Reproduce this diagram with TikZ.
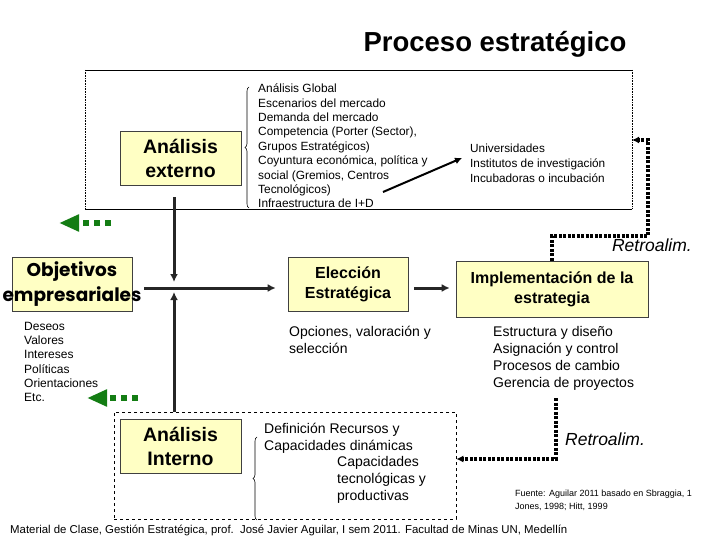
\documentclass[tikz,border=0pt]{standalone}
\usepackage{fontspec}
\setmainfont{Liberation Sans}
\newfontfamily\objfont{Poppins}
\usetikzlibrary{arrows.meta,decorations.pathreplacing,calc}
\definecolor{boxyellow}{RGB}{255,255,196}
\definecolor{arrgreen}{RGB}{20,125,20}
\tikzset{
  ybox/.style={draw=black!75, fill=boxyellow, line width=0.6pt, align=center, inner sep=0pt, font=\bfseries\fontsize{19.5}{24}\selectfont},
  thickline/.style={line width=3pt, draw=black!85},
  thickarrow/.style={thickline, -{Latex[length=8pt,width=8pt]}},
  txt/.style={inner sep=0pt, align=left, anchor=west},
  fback/.style={line width=4pt, dash pattern=on 3pt off 1.5pt, -{Latex[length=7pt,width=7pt]}},
  greenarr/.style={arrgreen, line width=6pt, dash pattern=on 6pt off 5pt, -{Triangle[length=20pt,width=16pt]}},
  bracestyle/.style={decorate, decoration={brace, amplitude=4pt}, line width=0.6pt},
}
\begin{document}
\begin{tikzpicture}[x=1pt,y=-1pt]
\useasboundingbox (0,0) rectangle (720,540);
% title
\node (title) at (495,44) {\bfseries\fontsize{27.5}{32}\selectfont Proceso estratégico};
% top box
\coordinate (tbNW) at (85,70);
\coordinate (tbNE) at (632,70);
\coordinate (tbSW) at (85,209);
\coordinate (tbSE) at (632,209);
\draw[line width=0.8pt] (tbNW) -- (tbNE);
\draw[line width=0.8pt] (tbSW) -- (tbSE);
\draw[densely dotted, line width=0.6pt] (tbNW) -- (tbSW);
\draw[densely dotted, line width=0.6pt] (tbNE) -- (tbSE);
% boxes
\node[ybox, minimum width=121pt, minimum height=54pt] (ext) at (180.5,158) {Análisis\\ externo};
\node[ybox, minimum width=120pt, minimum height=54pt] (obj) at (72,284) {};
\node[inner sep=0pt, align=center, font=\objfont\bfseries\fontsize{18.5}{25}\selectfont] (objt) at (obj.center) {Objetivos\\ empresariales};
\node[ybox, minimum width=120pt, minimum height=54pt, font=\bfseries\fontsize{16}{20}\selectfont] (elec) at (348,284) {Elección\\ Estratégica};
\node[ybox, minimum width=192pt, minimum height=56pt, font=\bfseries\fontsize{16}{20}\selectfont] (impl) at (552,289) {Implementación de la\\ estrategia};
\node[draw, dashed, line width=0.7pt, minimum width=342pt, minimum height=107pt, inner sep=0pt] (intbox) at (285,465.5) {};
\node[ybox, minimum width=121pt, minimum height=54pt] (intn) at (180.5,446) {Análisis\\ Interno};
% texts
\node[txt, font=\fontsize{11.9}{14.4}\selectfont] (glob) at (258,146) {Análisis Global\\ Escenarios del mercado\\ Demanda del mercado\\ Competencia (Porter (Sector),\\ Grupos Estratégicos)\\ Coyuntura económica, política y\\ social (Gremios, Centros\\ Tecnológicos)\\ Infraestructura de I+D};
\node[txt, font=\fontsize{11.8}{15}\selectfont] (univ) at (470,163) {Universidades\\ Institutos de investigación\\ Incubadoras o incubación};
\node[txt, font=\fontsize{12}{14.3}\selectfont] (des) at (24,362) {Deseos\\ Valores\\ Intereses\\ Políticas\\ Orientaciones\\ Etc.};
\node[txt, font=\fontsize{14}{17}\selectfont] (opc) at (289,340) {Opciones, valoración y\\ selección};
\node[txt, font=\fontsize{14}{17}\selectfont] (est) at (493,358) {Estructura y diseño\\ Asignación y control\\ Procesos de cambio\\ Gerencia de proyectos};
\node[txt, font=\fontsize{14}{17}\selectfont] (def) at (264,438.5) {Definición Recursos y\\ Capacidades dinámicas};
\node[txt, font=\fontsize{14}{17}\selectfont] (cap) at (337,480) {Capacidades\\ tecnológicas y\\ productivas};
\node[anchor=east, inner sep=0pt, font=\itshape\fontsize{17.5}{19}\selectfont] (r1) at (692,245) {Retroalim.};
\node[anchor=west, inner sep=0pt, font=\itshape\fontsize{17.5}{19}\selectfont] (r2) at (565,439) {Retroalim.};
\node[txt, font=\fontsize{9}{13}\selectfont] (fuente) at (515,500.5) {Fuente: Aguilar 2011 basado en Sbraggia, 1\\ Jones, 1998; Hitt, 1999};
\node[txt, font=\fontsize{11.4}{13}\selectfont] (foot) at (10,530) {Material de Clase, Gestión Estratégica, prof.\ \ José Javier Aguilar, I sem 2011. Facultad de Minas UN, Medellín};
% braces
\draw[bracestyle] (249,208) -- (249,87);
\draw[bracestyle] (257,520) -- (257,437);
% main connectors
\coordinate (cross) at (174,288);
\draw[thickarrow] ([yshift=-12pt]ext.south -| cross) -- ([yshift=6pt]cross);
\draw[thickarrow] (intbox.north -| cross) -- ([yshift=-4pt]cross);
\draw[thickarrow] ([xshift=12pt]obj.east |- cross) -- ([xshift=-12pt]elec.west |- cross);
\draw[thickarrow] ([xshift=6pt]elec.east |- cross) -- ([xshift=-6pt]impl.west |- cross);
\coordinate (ua) at (383,192);
\draw[line width=2pt, -{Latex[length=7pt,width=7pt]}] (ua) -- ([xshift=-8pt,yshift=5pt]univ.west);
% feedback
\draw[fback] (impl.north -| 552,0) -- (552,236) -- (648,236) -- (648,140) -- (tbNE |- 0,140);
\draw[fback] (est.south -| 556,0) ++(0,8) -- (556,459) -- (intbox.east |- 0,459);
% green arrows
\coordinate (g1s) at (111,223);
\coordinate (g1e) at (59,223);
\coordinate (g2s) at (138,398);
\coordinate (g2e) at (87,398);
\draw[greenarr] (g1s) -- (g1e);
\draw[greenarr] (g2s) -- (g2e);
\end{tikzpicture}
\end{document}
